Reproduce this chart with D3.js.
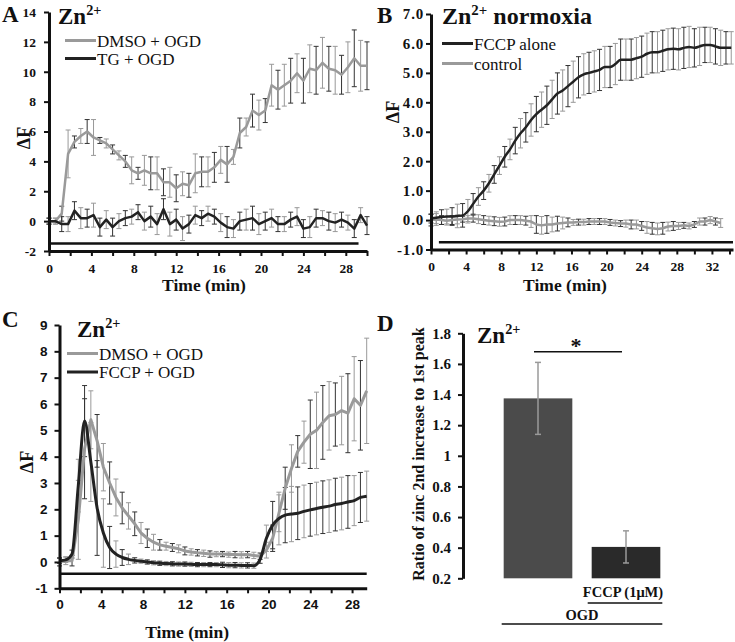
<!DOCTYPE html>
<html><head><meta charset="utf-8">
<script src="https://cdn.jsdelivr.net/npm/d3@7/dist/d3.min.js"></script>
<style>body{margin:0;background:#fff}svg{display:block}</style>
</head><body><svg id="c" width="735" height="642"></svg>
<script>
// ---------------- DATA ----------------
// Panel A (time in min, step 0.6)
const A_time = [0,0.6,1.2,1.8,2.4,3.0,3.6,4.2,4.8,5.4,6.0,6.6,7.2,7.8,8.4,9.0,9.6,10.2,10.8,11.4,12.0,12.6,13.2,13.8,14.4,15.0,15.6,16.2,16.8,17.4,18.0,18.6,19.2,19.8,20.4,21.0,21.6,22.2,22.8,23.4,24.0,24.6,25.2,25.8,26.4,27.0,27.6,28.2,28.8,29.4,30.0];
const A_dmso = [0,0,0.5,4.5,5.3,5.7,6.0,5.6,5.4,5.2,4.8,4.4,4.0,3.4,3.2,3.4,3.2,3.2,2.6,2.6,2.2,2.5,2.4,3.2,3.3,3.3,3.6,4.1,3.8,4.3,5.9,6.3,7.4,7.1,7.4,9.1,8.8,9.1,9.4,9.9,9.4,10.2,10.1,10.6,10.2,10.1,9.8,10.3,10.9,10.4,10.4];
const A_dmsoErr = [0.2,0.2,0.5,1.6,0.4,0.5,0.8,1.2,0.2,0.3,0.3,0.3,0.4,0.9,0.4,1.0,1.1,1.1,0.9,1.0,0.9,0.8,0.8,1.3,1.0,1.0,1.0,0.9,1.2,0.5,1.0,0.6,1.1,1.0,0.8,1.4,1.3,1.4,1.5,1.3,1.5,1.6,1.6,1.7,1.5,1.6,1.3,1.7,1.9,1.7,1.6];
const A_tg = [0,0,-0.2,-0.2,0.7,0.2,0.2,0.4,-0.4,0.1,-0.4,0,0.2,0.3,0.6,0,0.3,-0.2,0.8,-0.2,0.1,-0.5,-0.2,0.4,0.2,0.5,0.3,-0.1,-0.4,-0.5,0,0.1,0.2,-0.2,0,0.2,-0.2,-0.2,0.1,0.3,-0.5,-0.4,0.2,0.2,0,-0.1,0.1,-0.1,-0.5,0.4,-0.3];
const A_tgErr = [0.2,0.2,0.5,0.5,0.6,0.7,0.6,0.8,0.6,0.6,0.6,0.5,0.5,0.5,0.5,0.6,0.7,0.7,0.7,0.8,0.7,0.8,0.6,0.6,0.5,0.5,0.5,0.6,0.7,0.6,0.6,0.7,0.8,0.7,0.6,0.6,0.5,0.5,0.5,0.6,0.6,0.7,0.6,0.5,0.6,0.6,0.5,0.5,0.6,0.5,0.6];
const A_series = ["DMSO + OGD","TG + OGD"];
const A_xTicks = [0,2,4,6,8,10,12,14,16,18,20,22,24,26,28,30];
const A_xLabels = [0,4,8,12,16,20,24,28];
const A_yTicks = [-2,0,2,4,6,8,10,12,14];

// Panel B
const B_time = [0,0.6,1.2,1.8,2.4,3.0,3.6,4.2,4.8,5.4,6.0,6.6,7.2,7.8,8.4,9.0,9.6,10.2,10.8,11.4,12.0,12.6,13.2,13.8,14.4,15.0,15.6,16.2,16.8,17.4,18.0,18.6,19.2,19.8,20.4,21.0,21.6,22.2,22.8,23.4,24.0,24.6,25.2,25.8,26.4,27.0,27.6,28.2,28.8,29.4,30.0,30.6,31.2,31.8,32.4,33.0,33.6,34.2];
const B_fccp = [0.05,0.08,0.1,0.12,0.12,0.14,0.16,0.3,0.55,0.8,1.0,1.25,1.55,1.85,2.15,2.4,2.7,2.95,3.15,3.4,3.6,3.75,3.9,4.1,4.3,4.4,4.55,4.7,4.85,4.95,5.0,5.05,5.1,5.2,5.2,5.3,5.45,5.45,5.45,5.5,5.55,5.65,5.7,5.7,5.75,5.8,5.82,5.8,5.85,5.88,5.85,5.9,5.95,5.95,5.9,5.85,5.85,5.85];
const B_fccpErr = [0.15,0.2,0.25,0.25,0.3,0.4,0.4,0.4,0.35,0.3,0.3,0.3,0.3,0.3,0.35,0.35,0.45,0.5,0.5,0.55,0.6,0.6,0.65,0.65,0.7,0.7,0.7,0.7,0.7,0.7,0.7,0.7,0.7,0.7,0.7,0.7,0.7,0.7,0.7,0.7,0.7,0.7,0.7,0.7,0.7,0.7,0.7,0.7,0.7,0.7,0.65,0.65,0.6,0.6,0.6,0.6,0.55,0.55];
const B_ctrl = [0,0.02,0,-0.02,0,0.02,0.03,0.05,0.05,0.03,0,-0.02,-0.04,-0.06,-0.05,0,0,0,-0.02,-0.05,-0.15,-0.18,-0.15,-0.15,-0.12,-0.1,-0.08,-0.08,-0.07,-0.07,-0.05,-0.05,-0.05,-0.05,-0.08,-0.1,-0.12,-0.12,-0.15,-0.15,-0.2,-0.25,-0.28,-0.3,-0.28,-0.22,-0.2,-0.2,-0.18,-0.2,-0.15,-0.05,-0.05,0,-0.05,-0.1];
const B_ctrlErr = [0.2,0.2,0.15,0.15,0.15,0.15,0.1,0.1,0.12,0.15,0.15,0.15,0.15,0.15,0.15,0.15,0.15,0.15,0.15,0.2,0.3,0.3,0.3,0.25,0.25,0.2,0.15,0.1,0.1,0.1,0.1,0.1,0.1,0.1,0.1,0.1,0.1,0.12,0.15,0.15,0.15,0.2,0.2,0.2,0.2,0.15,0.15,0.12,0.1,0.1,0.1,0.12,0.12,0.12,0.12,0.15];
const B_series = ["FCCP alone","control"];
const B_xTicks = [0,2,4,6,8,10,12,14,16,18,20,22,24,26,28,30,32,34];
const B_xLabels = [0,4,8,12,16,20,24,28,32];
const B_yTicks = [-1,0,1,2,3,4,5,6,7];

// Panel C
const C_time = [0,0.6,1.2,1.8,2.4,3.0,3.6,4.2,4.8,5.4,6.0,6.6,7.2,7.8,8.4,9.0,9.6,10.2,10.8,11.4,12.0,12.6,13.2,13.8,14.4,15.0,15.6,16.2,16.8,17.4,18.0,18.6,19.2,19.8,20.4,21.0,21.6,22.2,22.8,23.4,24.0,24.6,25.2,25.8,26.4,27.0,27.6,28.2,28.8,29.4];
const C_dmso = [0,0.05,0.05,1.6,4.3,5.4,4.6,3.6,3.0,2.45,2.05,1.75,1.45,1.1,0.9,0.75,0.65,0.6,0.55,0.5,0.42,0.38,0.35,0.33,0.3,0.3,0.3,0.28,0.28,0.27,0.28,0.25,0.22,0.45,0.9,1.85,2.8,3.55,4.2,4.55,4.85,5.0,5.3,5.55,5.6,5.75,5.65,6.2,5.95,6.5];
const C_dmsoErr = [0.15,0.15,0.2,1.5,1.9,1.1,1.0,0.9,0.8,0.7,0.6,0.5,0.45,0.4,0.35,0.3,0.2,0.15,0.15,0.15,0.15,0.12,0.12,0.12,0.12,0.1,0.1,0.1,0.12,0.12,0.12,0.12,0.12,0.3,0.5,0.7,0.8,0.9,0.6,0.8,1.3,1.45,1.4,1.3,1.2,1.3,1.5,1.6,1.7,2.0];
const C_fccp = [0.05,0.08,0.3,2.9,5.35,3.8,2.05,1.1,0.55,0.3,0.17,0.1,0.06,0.03,0,-0.03,-0.05,-0.06,-0.07,-0.08,-0.08,-0.09,-0.1,-0.1,-0.1,-0.1,-0.11,-0.12,-0.12,-0.13,-0.13,-0.14,0.1,0.9,1.4,1.65,1.78,1.82,1.85,1.92,1.98,2.03,2.08,2.12,2.18,2.22,2.28,2.33,2.45,2.5];
const C_fccpErr = [0.1,0.1,0.15,1.0,1.35,1.5,1.8,1.3,0.8,0.5,0.3,0.2,0.1,0.08,0.08,0.08,0.08,0.08,0.08,0.08,0.08,0.08,0.08,0.08,0.08,0.08,0.1,0.1,0.1,0.1,0.1,0.1,0.15,0.5,0.9,1.0,1.05,1.05,1.0,1.0,1.0,1.0,1.0,1.0,1.0,1.0,1.0,0.95,0.95,0.95];
const C_series = ["DMSO + OGD","FCCP + OGD"];
const C_xTicks = [0,2,4,6,8,10,12,14,16,18,20,22,24,26,28];
const C_xLabels = [0,4,8,12,16,20,24,28];
const C_yTicks = [-1,0,1,2,3,4,5,6,7,8,9];

// Panel D
const D_categories = ["DMSO", "FCCP (1μM)"];
const D_values = [1.375, 0.405];
const D_errors = [0.235, 0.105];
const D_yTicks = [0.2,0.4,0.6,0.8,1.0,1.2,1.4,1.6,1.8];
const D_yLabels = ["0.2","0.4","0.6","0.8","1","1.2","1.4","1.6","1.8"];

// ---------------- DRAWING ----------------
const svg = d3.select("#c");
const SERIF = "'Liberation Serif','Times New Roman',serif";
const SANS = "'Liberation Sans',Arial,sans-serif";
const GRAY = "#9a9a9a", DARK = "#222";

function styleAxis(a, font, size, spacing){
  a.select(".domain").attr("stroke","#111").attr("stroke-width",3);
  a.selectAll(".tick line").attr("stroke","#111").attr("stroke-width",2);
  a.selectAll(".tick text").attr("font-family",font).attr("font-weight","bold")
    .attr("font-size",size).attr("fill","#111");
  if(spacing) a.selectAll(".tick text").attr("letter-spacing",spacing);
}

function title(x, y, size, sup, after){
  const t = svg.append("text").attr("x",x).attr("y",y).attr("font-family",SERIF)
    .attr("font-weight","bold").attr("font-size",size).attr("fill","#111");
  t.append("tspan").text("Zn");
  t.append("tspan").attr("dy",-size*0.38).attr("font-size",size*0.62).text(sup);
  if(after) t.append("tspan").attr("dy",size*0.38).text(after);
}

function letter(x,y,txt){
  svg.append("text").attr("x",x).attr("y",y).attr("font-family",SERIF)
    .attr("font-weight","bold").attr("font-size",23).attr("fill","#111").text(txt);
}

function linePanel(o){
  const g = svg.append("g");
  const x = d3.scaleLinear().domain(o.xDomain).range(o.xRange);
  const y = d3.scaleLinear().domain(o.yDomain).range(o.yRange);

  // treatment bar
  g.append("line").attr("x1",x(o.bar[0])).attr("x2",x(o.bar[1]))
    .attr("y1",y(o.bar[2])).attr("y2",y(o.bar[2]))
    .attr("stroke","#111").attr("stroke-width",2.5);

  // error bars
  o.series.forEach(s=>{
    const eg = g.append("g");
    s.values.forEach((v,i)=>{
      const cx = x(s.times[i]), e = s.err[i];
      const col = i%2===0 ? "#333" : "#999";
      const y1 = y(v+e), y2 = y(v-e);
      eg.append("line").attr("x1",cx).attr("x2",cx).attr("y1",y1).attr("y2",y2)
        .attr("stroke",col).attr("stroke-width",1);
      [y1,y2].forEach(yy=>eg.append("line").attr("x1",cx-2.5).attr("x2",cx+2.5)
        .attr("y1",yy).attr("y2",yy).attr("stroke",col).attr("stroke-width",1));
    });
  });

  // lines
  o.series.forEach(s=>{
    const line = d3.line().x((d,i)=>x(s.times[i])).y(d=>y(d))
      .curve(s.smooth ? d3.curveMonotoneX : d3.curveLinear);
    g.append("path").datum(s.values).attr("d",line).attr("fill","none")
      .attr("stroke",s.color).attr("stroke-width",s.width)
      .attr("stroke-linejoin","round");
  });

  // axes
  const ya = d3.axisLeft(y).tickValues(o.yTicks).tickFormat(o.yFmt)
    .tickSize(5).tickSizeOuter(0).tickPadding(o.yPad);
  const yg = g.append("g").attr("transform",`translate(${o.xRange[0]},0)`).call(ya);
  styleAxis(yg, o.tickFont, o.yTickSize || o.tickSize, o.ySpacing);
  const xa = d3.axisBottom(x).tickValues(o.xTicks)
    .tickFormat(d => o.xLabels.includes(d) ? d : "")
    .tickSize(5).tickSizeOuter(0).tickPadding(o.xPad);
  const xg = g.append("g").attr("transform",`translate(0,${o.yRange[0]})`).call(xa);
  styleAxis(xg, o.tickFont, o.tickSize);

  // axis titles
  svg.append("text").attr("x",(o.xRange[0]+o.xRange[1])/2 + o.xtDx).attr("y",o.xtY)
    .attr("text-anchor","middle").attr("font-family",SERIF).attr("font-weight","bold")
    .attr("font-size",17.5).attr("fill","#111").text("Time (min)");
  svg.append("text").attr("transform",`translate(${o.ytX},${o.ytY}) rotate(-90)`)
    .attr("text-anchor","middle").attr("font-family",SERIF).attr("font-weight","bold")
    .attr("font-size",18).attr("fill","#111").text("ΔF");

  // legend
  o.legend.forEach((l,i)=>{
    const ly = o.legY + i*o.legGap;
    svg.append("line").attr("x1",o.legX).attr("x2",o.legX+31).attr("y1",ly).attr("y2",ly)
      .attr("stroke",l.color).attr("stroke-width",3);
    svg.append("text").attr("x",o.legX+32).attr("y",ly+6).attr("font-family",SERIF)
      .attr("font-size",17).attr("fill","#111").text(l.name);
  });
}

// Panel A
linePanel({
  xDomain:[0,30], xRange:[49,367], yDomain:[-2,14], yRange:[251,12],
  bar:[0,29.2,-1.5],
  series:[
    {times:A_time, values:A_dmso, err:A_dmsoErr, color:GRAY, width:2.5},
    {times:A_time, values:A_tg, err:A_tgErr, color:DARK, width:2.5}
  ],
  yTicks:A_yTicks, yFmt:d=>d, yPad:8, xTicks:A_xTicks, xLabels:A_xLabels, xPad:7,
  tickFont:SERIF, tickSize:13.5,
  xtDx:-4, xtY:291, ytX:30, ytY:138,
  legX:65, legY:40.5, legGap:18,
  legend:[{name:A_series[0],color:GRAY},{name:A_series[1],color:DARK}]
});

// Panel B
linePanel({
  xDomain:[0,34.4], xRange:[431,733], yDomain:[-1,7], yRange:[249.5,14],
  bar:[0.9,34.4,-0.75],
  series:[
    {times:B_time, values:B_ctrl, err:B_ctrlErr, color:GRAY, width:2.5},
    {times:B_time, values:B_fccp, err:B_fccpErr, color:DARK, width:2.5, smooth:true}
  ],
  yTicks:B_yTicks, yFmt:d=>d.toFixed(1), yPad:2, yTickSize:15, ySpacing:0.8,
  xTicks:B_xTicks, xLabels:B_xLabels, xPad:7,
  tickFont:SERIF, tickSize:13.5,
  xtDx:-17, xtY:291, ytX:399, ytY:112,
  legX:442, legY:43.5, legGap:20,
  legend:[{name:B_series[0],color:DARK},{name:B_series[1],color:GRAY}]
});

// Panel C
linePanel({
  xDomain:[0,29.4], xRange:[59.5,366.7], yDomain:[-1,9], yRange:[588.3,325],
  bar:[0,29.4,-0.45],
  series:[
    {times:C_time, values:C_dmso, err:C_dmsoErr, color:GRAY, width:3},
    {times:C_time, values:C_fccp, err:C_fccpErr, color:DARK, width:3, smooth:true}
  ],
  yTicks:C_yTicks, yFmt:d=>d, yPad:7, xTicks:C_xTicks, xLabels:C_xLabels, xPad:6,
  tickFont:SANS, tickSize:13.5,
  xtDx:-26, xtY:638, ytX:33, ytY:462,
  legX:67, legY:353.5, legGap:18.5,
  legend:[{name:C_series[0],color:GRAY},{name:C_series[1],color:DARK}]
});

// Panel D
(function(){
  const g = svg.append("g");
  const y = d3.scaleLinear().domain([0.2,1.8]).range([578.3,333.3]);
  const x = d3.scaleBand().domain(D_categories).range([494,670]).paddingInner(0.22).paddingOuter(0.11);
  const cols = ["#4b4b4b","#2a2a2a"];
  g.selectAll("rect.bar").data(D_values).enter().append("rect")
    .attr("x",(d,i)=>x(D_categories[i])).attr("width",x.bandwidth())
    .attr("y",d=>y(d)).attr("height",d=>y(0.2)-y(d)).attr("fill",(d,i)=>cols[i]);
  D_values.forEach((v,i)=>{
    const cx = x(D_categories[i]) + x.bandwidth()/2, e = D_errors[i];
    g.append("line").attr("x1",cx).attr("x2",cx).attr("y1",y(v+e)).attr("y2",y(v-e))
      .attr("stroke","#9a9a9a").attr("stroke-width",1.5);
    [v+e, v-e].forEach(w=>g.append("line").attr("x1",cx-3).attr("x2",cx+3)
      .attr("y1",y(w)).attr("y2",y(w)).attr("stroke","#9a9a9a").attr("stroke-width",1.5));
  });
  const ya = d3.axisLeft(y).tickValues(D_yTicks).tickFormat((d,i)=>D_yLabels[i])
    .tickSize(5).tickSizeOuter(0).tickPadding(7);
  const yg = g.append("g").attr("transform","translate(463,0)").call(ya);
  styleAxis(yg, SERIF, 15);

  // significance
  const c0 = x(D_categories[0]) + x.bandwidth()/2, c1 = x(D_categories[1]) + x.bandwidth()/2;
  const sy = y(1.68);
  g.append("line").attr("x1",c0-4).attr("x2",c1-4).attr("y1",sy).attr("y2",sy)
    .attr("stroke","#111").attr("stroke-width",1.5);
  g.append("text").attr("x",(c0+c1)/2-6).attr("y",sy+1).attr("text-anchor","middle")
    .attr("font-family",SERIF).attr("font-weight","bold").attr("font-size",22).attr("fill","#111").text("*");

  // category labels
  const b1 = x(D_categories[1]);
  g.append("text").attr("x",b1+x.bandwidth()/2-3).attr("y",597).attr("text-anchor","middle")
    .attr("font-family",SERIF).attr("font-weight","bold").attr("font-size",14.5).attr("fill","#111").text(D_categories[1]);
  g.append("line").attr("x1",b1-4).attr("x2",b1+x.bandwidth()+2).attr("y1",603).attr("y2",603)
    .attr("stroke","#111").attr("stroke-width",1.5);
  const b0 = x(D_categories[0]);
  g.append("text").attr("x",(b0+b1+x.bandwidth())/2).attr("y",620).attr("text-anchor","middle")
    .attr("font-family",SERIF).attr("font-weight","bold").attr("font-size",14.5).attr("fill","#111").text("OGD");
  g.append("line").attr("x1",b0-2).attr("x2",b1+x.bandwidth()+2).attr("y1",624).attr("y2",624)
    .attr("stroke","#111").attr("stroke-width",1.5);

  svg.append("text").attr("transform","translate(424,454) rotate(-90)").attr("text-anchor","middle")
    .attr("font-family",SERIF).attr("font-weight","bold").attr("font-size",16).attr("fill","#111")
    .text("Ratio of zinc 2nd increase to 1st peak");
})();

// titles and letters
title(58, 24, 23, "2+");
title(442, 24, 24, "2+", " normoxia");
title(77, 337, 23, "2+");
title(477, 343, 23, "2+");
letter(2, 22, "A");
letter(377, 23, "B");
letter(2, 327, "C");
letter(377, 331, "D");
</script></body></html>
